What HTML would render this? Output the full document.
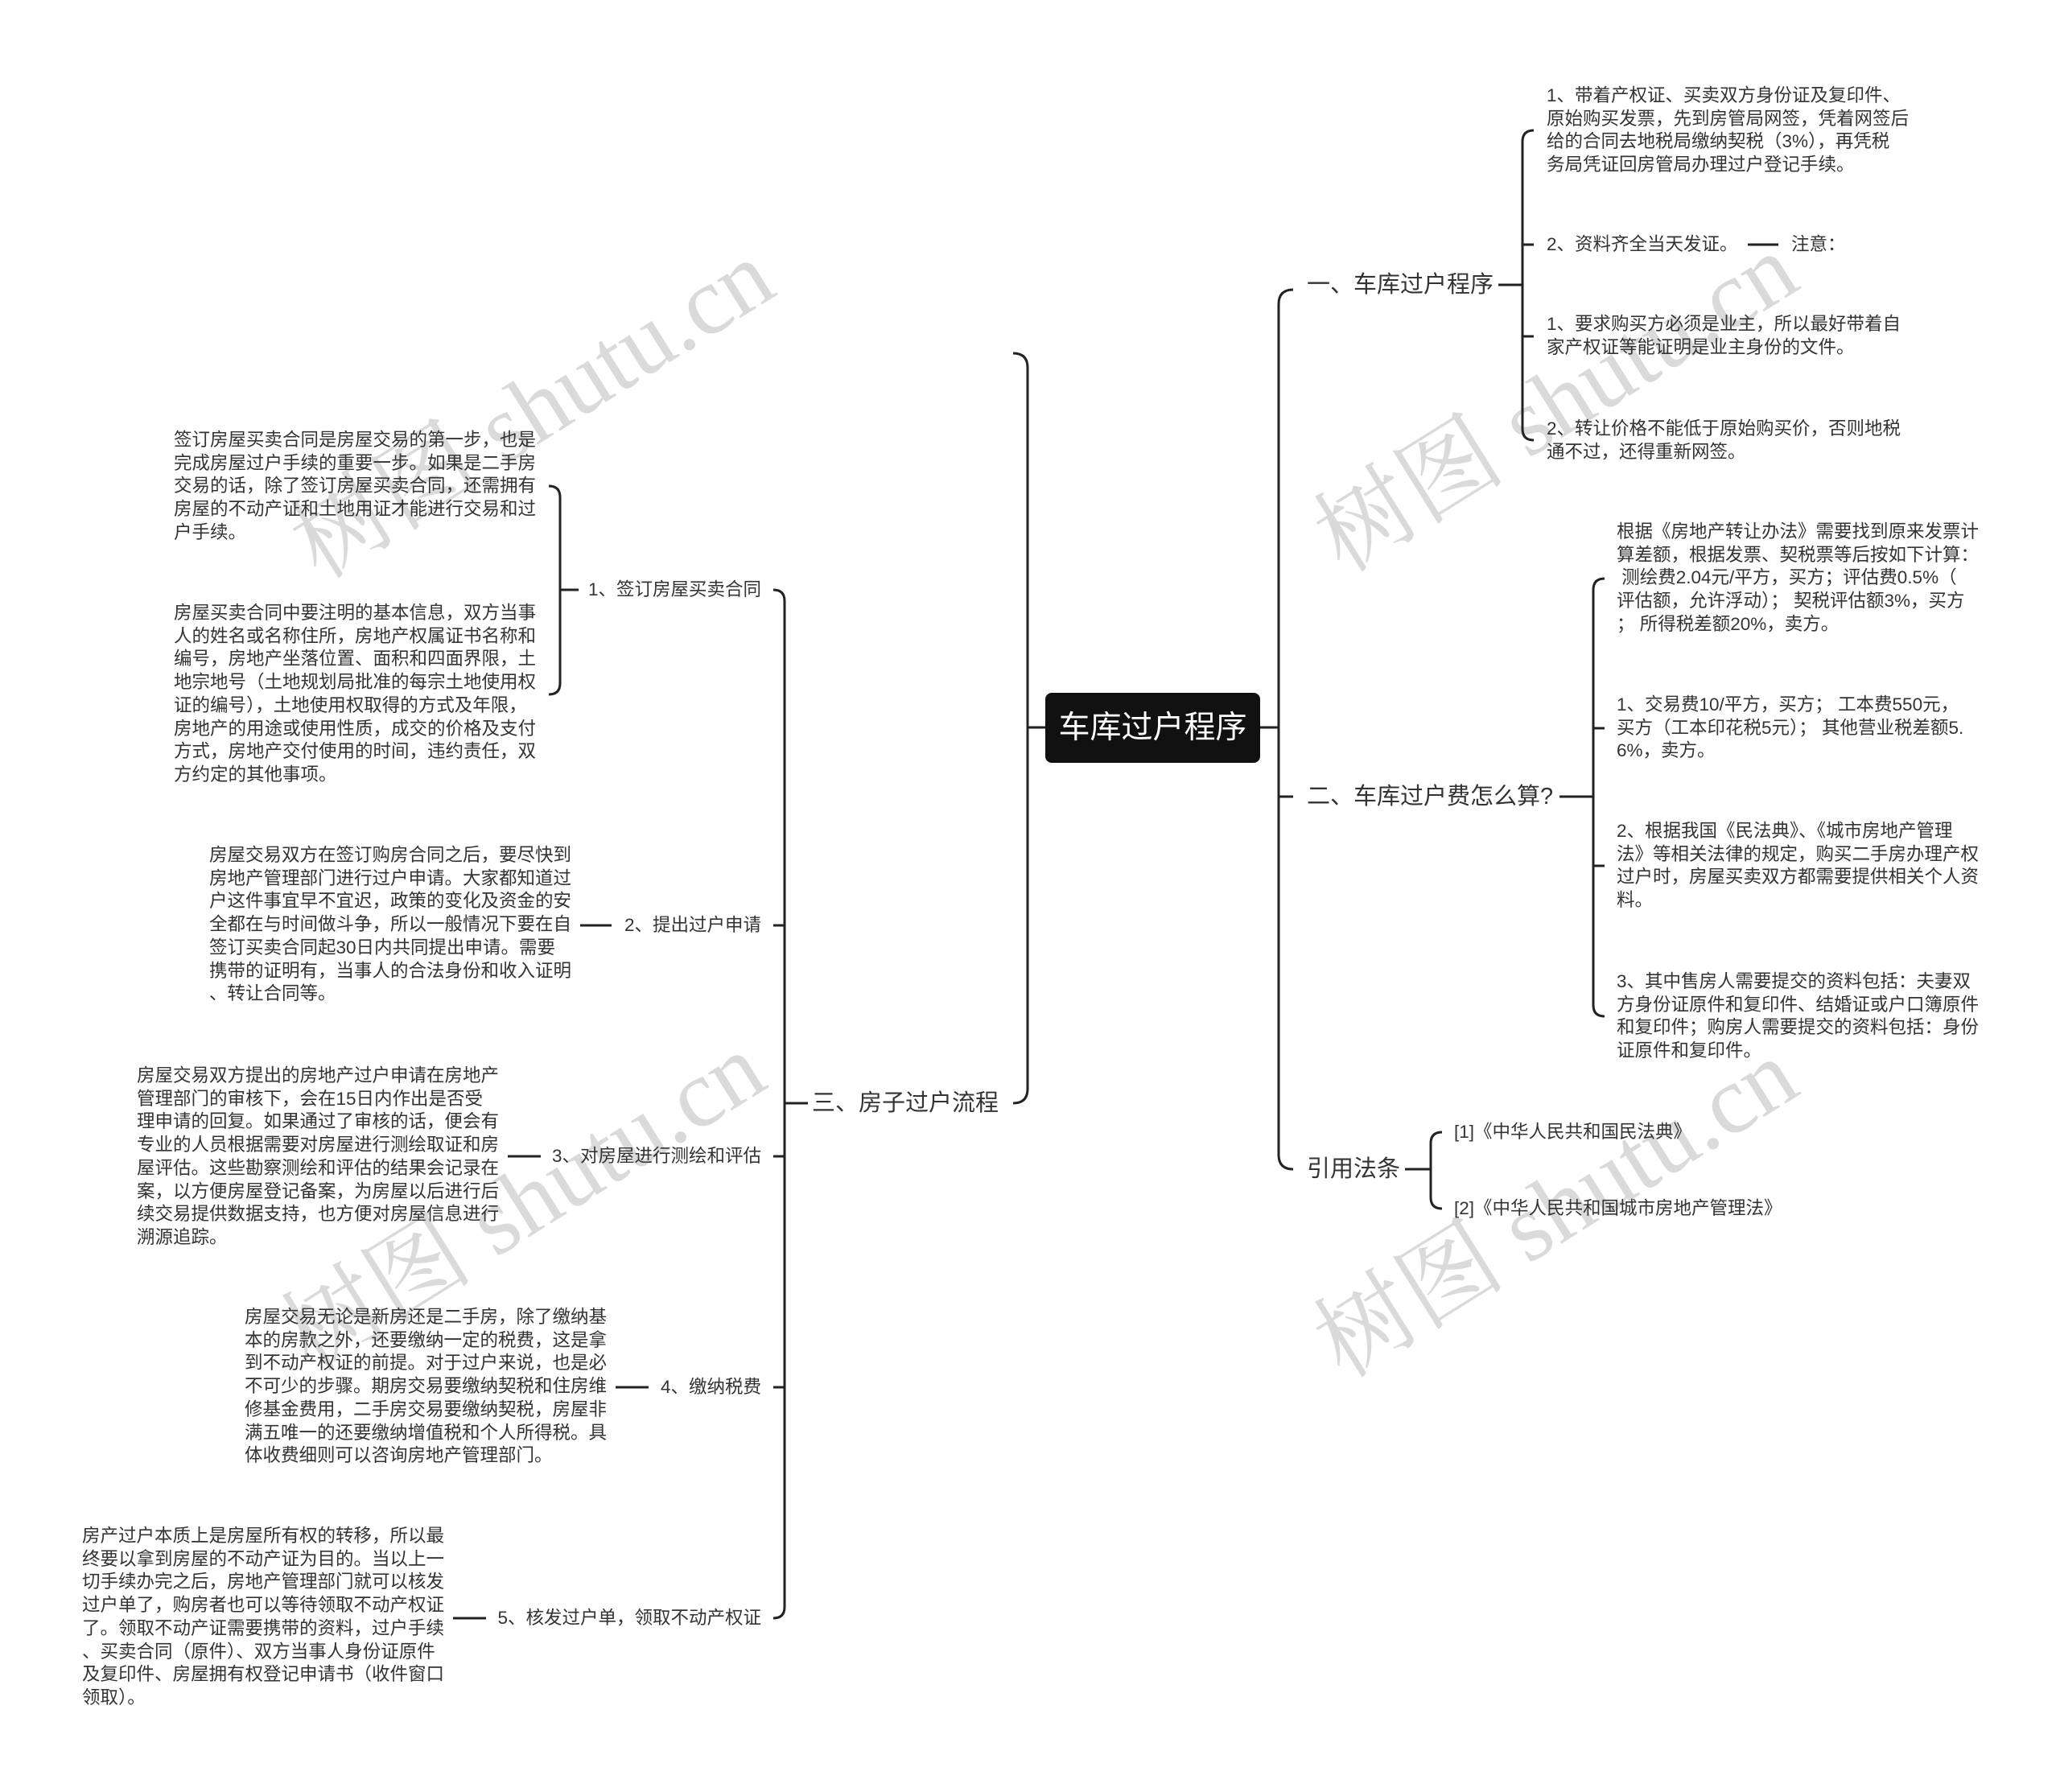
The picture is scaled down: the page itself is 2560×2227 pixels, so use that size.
<!DOCTYPE html>
<html><head><meta charset="utf-8">
<style>
html,body{margin:0;padding:0;background:#fff;}
body{width:2560px;height:2227px;position:relative;overflow:hidden;font-family:"Liberation Sans","Noto Sans CJK SC",sans-serif;color:#333;}
#w{position:absolute;left:0;top:0;width:2560px;height:2227px;transform:translate(-6px,-4px);}
.t{position:absolute;font-size:22.5px;line-height:28.7px;white-space:nowrap;}
.l{position:absolute;font-size:22.5px;line-height:32px;white-space:nowrap;}
.h{position:absolute;font-size:29px;line-height:40px;white-space:nowrap;}
.wm{position:absolute;font-family:"Liberation Serif","Noto Serif CJK SC",serif;font-size:120px;color:rgba(140,140,140,0.32);transform:translate(-50%,-50%) rotate(-32deg);white-space:nowrap;}
svg{position:absolute;left:0;top:0;}
</style></head><body>
<div class="wm" style="left:656px;top:500px;">树图 shutu.cn</div>
<div class="wm" style="left:1928px;top:492px;">树图 shutu.cn</div>
<div class="wm" style="left:645px;top:1485px;">树图 shutu.cn</div>
<div class="wm" style="left:1928px;top:1493px;">树图 shutu.cn</div>
<div id="w">
<svg width="2560" height="2227" fill="none" stroke="#222" stroke-width="3">
<path d="M1265,443 Q1283,443 1283,461 L1283,1357 Q1283,1375 1265,1375 M1283,908 H1305"/>
<path d="M967,737 Q981,737 981,751 L981,2001 Q981,2015 967,2015 M981,1154 H967 M981,1441 H967 M981,1728 H967 M981,1375 H1010"/>
<path d="M688,608 Q702,608 702,622 L702,853 Q702,867 688,867 M702,737 H725"/>
<path d="M727,1154 H766 M637,1441 H678 M771,1728 H812 M569,2015 H610"/>
<path d="M1613,364 Q1595,364 1595,382 L1595,1439 Q1595,1457 1613,1457 M1595,994 H1613 M1572,908 H1595"/>
<path d="M1912,166 Q1898,166 1898,180 L1898,537 Q1898,551 1912,551 M1898,308 H1912 M1898,422 H1912 M1868,358 H1898 M2178,308 H2216"/>
<path d="M2000,723 Q1986,723 1986,737 L1986,1253 Q1986,1267 2000,1267 M1986,909 H2000 M1986,1080 H2000 M1944,994 H1986"/>
<path d="M1798,1411 Q1784,1411 1784,1425 L1784,1492 Q1784,1506 1798,1506 M1752,1457 H1784"/>
</svg>

<div style="position:absolute;left:1305px;top:865px;width:267px;height:87px;background:#111;border-radius:8px;color:#fff;font-size:39px;line-height:87px;text-align:center;">车库过户程序</div>

<div class="h" style="right:1313px;top:1355px;">三、房子过户流程</div>
<div class="l" style="right:1608px;top:721px;">1、签订房屋买卖合同</div>
<div class="l" style="right:1608px;top:1138px;">2、提出过户申请</div>
<div class="l" style="right:1608px;top:1425px;">3、对房屋进行测绘和评估</div>
<div class="l" style="right:1608px;top:1712px;">4、缴纳税费</div>
<div class="l" style="right:1608px;top:1999px;">5、核发过户单，领取不动产权证</div>

<div class="t" style="left:222px;top:537px;">签订房屋买卖合同是房屋交易的第一步，也是<br>完成房屋过户手续的重要一步。如果是二手房<br>交易的话，除了签订房屋买卖合同，还需拥有<br>房屋的不动产证和土地用证才能进行交易和过<br>户手续。</div>
<div class="t" style="left:222px;top:752px;">房屋买卖合同中要注明的基本信息，双方当事<br>人的姓名或名称住所，房地产权属证书名称和<br>编号，房地产坐落位置、面积和四面界限，土<br>地宗地号（土地规划局批准的每宗土地使用权<br>证的编号），土地使用权取得的方式及年限，<br>房地产的用途或使用性质，成交的价格及支付<br>方式，房地产交付使用的时间，违约责任，双<br>方约定的其他事项。</div>
<div class="t" style="left:266px;top:1053px;">房屋交易双方在签订购房合同之后，要尽快到<br>房地产管理部门进行过户申请。大家都知道过<br>户这件事宜早不宜迟，政策的变化及资金的安<br>全都在与时间做斗争，所以一般情况下要在自<br>签订买卖合同起30日内共同提出申请。需要<br>携带的证明有，当事人的合法身份和收入证明<br>、转让合同等。</div>
<div class="t" style="left:176px;top:1327px;">房屋交易双方提出的房地产过户申请在房地产<br>管理部门的审核下，会在15日内作出是否受<br>理申请的回复。如果通过了审核的话，便会有<br>专业的人员根据需要对房屋进行测绘取证和房<br>屋评估。这些勘察测绘和评估的结果会记录在<br>案，以方便房屋登记备案，为房屋以后进行后<br>续交易提供数据支持，也方便对房屋信息进行<br>溯源追踪。</div>
<div class="t" style="left:310px;top:1627px;">房屋交易无论是新房还是二手房，除了缴纳基<br>本的房款之外，还要缴纳一定的税费，这是拿<br>到不动产权证的前提。对于过户来说，也是必<br>不可少的步骤。期房交易要缴纳契税和住房维<br>修基金费用，二手房交易要缴纳契税，房屋非<br>满五唯一的还要缴纳增值税和个人所得税。具<br>体收费细则可以咨询房地产管理部门。</div>
<div class="t" style="left:108px;top:1899px;">房产过户本质上是房屋所有权的转移，所以最<br>终要以拿到房屋的不动产证为目的。当以上一<br>切手续办完之后，房地产管理部门就可以核发<br>过户单了，购房者也可以等待领取不动产权证<br>了。领取不动产证需要携带的资料，过户手续<br>、买卖合同（原件）、双方当事人身份证原件<br>及复印件、房屋拥有权登记申请书（收件窗口<br>领取）。</div>

<div class="h" style="left:1630px;top:338px;">一、车库过户程序</div>
<div class="h" style="left:1630px;top:974px;">二、车库过户费怎么算?</div>
<div class="h" style="left:1630px;top:1437px;">引用法条</div>

<div class="t" style="left:1928px;top:109px;">1、带着产权证、买卖双方身份证及复印件、<br>原始购买发票，先到房管局网签，凭着网签后<br>给的合同去地税局缴纳契税（3%），再凭税<br>务局凭证回房管局办理过户登记手续。</div>
<div class="t" style="left:1928px;top:294px;">2、资料齐全当天发证。</div>
<div class="t" style="left:2232px;top:294px;">注意：</div>
<div class="t" style="left:1928px;top:393px;">1、要求购买方必须是业主，所以最好带着自<br>家产权证等能证明是业主身份的文件。</div>
<div class="t" style="left:1928px;top:523px;">2、转让价格不能低于原始购买价，否则地税<br>通不过，还得重新网签。</div>

<div class="t" style="left:2015px;top:651px;">根据《房地产转让办法》需要找到原来发票计<br>算差额，根据发票、契税票等后按如下计算：<br>&nbsp;测绘费2.04元/平方，买方；评估费0.5%（<br>评估额，允许浮动）； 契税评估额3%，买方<br>； 所得税差额20%，卖方。</div>
<div class="t" style="left:2015px;top:866px;">1、交易费10/平方，买方； 工本费550元，<br>买方（工本印花税5元）； 其他营业税差额5.<br>6%，卖方。</div>
<div class="t" style="left:2015px;top:1023px;">2、根据我国《民法典》、《城市房地产管理<br>法》等相关法律的规定，购买二手房办理产权<br>过户时，房屋买卖双方都需要提供相关个人资<br>料。</div>
<div class="t" style="left:2015px;top:1210px;">3、其中售房人需要提交的资料包括：夫妻双<br>方身份证原件和复印件、结婚证或户口簿原件<br>和复印件；购房人需要提交的资料包括：身份<br>证原件和复印件。</div>

<div class="t" style="left:1813px;top:1397px;">[1]《中华人民共和国民法典》</div>
<div class="t" style="left:1813px;top:1492px;">[2]《中华人民共和国城市房地产管理法》</div>
</div>
</body></html>
